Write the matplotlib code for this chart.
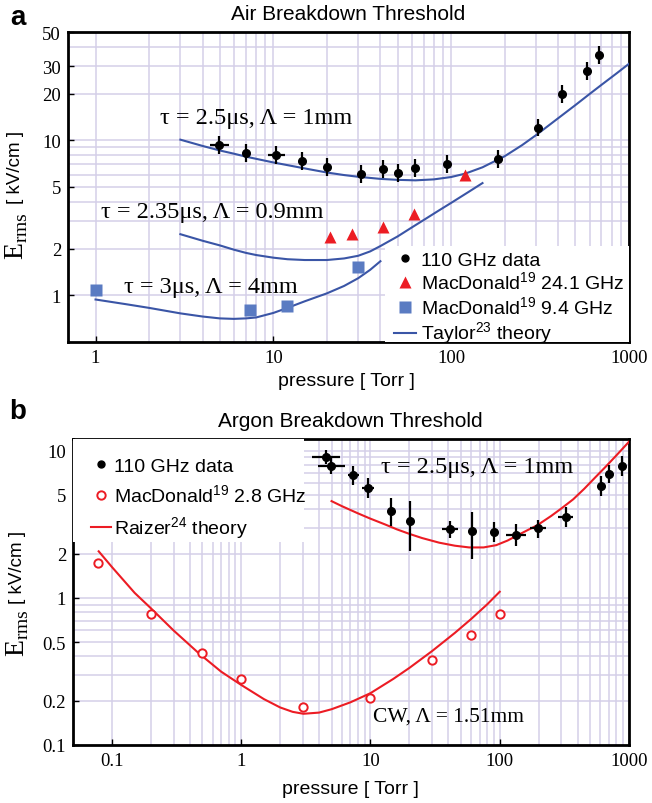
import numpy as np
import matplotlib
matplotlib.use("Agg")
import matplotlib.pyplot as plt
from matplotlib.lines import Line2D
from matplotlib.patches import Rectangle

# ---- panel a data (air) ----
air_p = [4.95, 7.03, 10.4, 14.5, 20.1, 31.1, 41.1, 50.4, 62.6, 95, 184, 307, 418, 577, 678]
air_E = [9.33, 8.24, 8.04, 7.32, 6.73, 6.1, 6.53, 6.19, 6.63, 7.08, 7.54, 12.1, 20.0, 28.0, 35.5]
air_E_lo = [8.16, 7.21, 7.03, 6.40, 5.89, 5.34, 5.71, 5.42, 5.80, 6.19, 6.60, 10.6, 17.5, 24.5, 31.0]
air_E_hi = [10.66, 9.42, 9.19, 8.37, 7.69, 6.97, 7.46, 7.08, 7.58, 8.09, 8.62, 13.8, 22.9, 32.0, 40.6]
air_p_lo = [4.4, 6.8, 9.3, 14.0, 19.6, 30.4, 40.0, 49.5, 61.5, 93, 180, 300, 410, 565, 665]
air_p_hi = [5.6, 7.3, 11.7, 15.0, 20.6, 31.8, 42.2, 51.3, 63.7, 97, 188, 314, 426, 589, 691]

mac24_p = [20.7, 27.8, 41.1, 61.6, 119.6]
mac24_E = [2.39, 2.50, 2.77, 3.33, 5.95]

mac94_p = [1.0, 7.37, 11.9, 29.8]
mac94_E = [1.09, 0.80, 0.85, 1.52]

taylor1_p = [3, 4, 5, 6, 7, 8, 10, 13, 16, 20, 25, 30, 40, 50, 63, 80, 100, 120,
             150, 200, 250, 300, 400, 500, 600, 700, 850, 1000]
taylor1_E = [10.1, 9.2, 8.6, 8.2, 7.85, 7.6, 7.2, 6.8, 6.5, 6.2, 5.97, 5.82, 5.64, 5.56,
             5.52, 5.6, 5.8, 6.1, 6.7, 7.9, 9.3, 10.8, 13.9, 16.9, 19.9, 22.8, 27.0, 31.2]

taylor2_p = [3, 4, 5, 6, 7, 8, 10, 12, 15, 20, 25, 30, 35, 40, 50, 60, 70, 85, 100, 125, 150]
taylor2_E = [2.48, 2.25, 2.1, 1.97, 1.88, 1.82, 1.75, 1.71, 1.69, 1.69, 1.73, 1.8, 1.92,
             2.08, 2.4, 2.74, 3.06, 3.52, 3.95, 4.64, 5.3]

taylor3_p = [1, 1.5, 2, 3, 4, 5, 6, 7, 8, 10, 12, 15, 20, 25, 30, 35, 40]
taylor3_E = [0.94, 0.875, 0.83, 0.765, 0.73, 0.71, 0.705, 0.71, 0.72, 0.77, 0.83, 0.915,
             1.03, 1.15, 1.29, 1.46, 1.66]

# ---- panel b data (argon) ----
ar_p = [4.5, 4.92, 7.38, 9.6, 14.5, 20.2, 41, 60.7, 90.8, 134.6, 196, 323, 603, 700, 887]
ar_E = [9.07, 7.83, 6.78, 5.6, 3.89, 3.33, 2.93, 2.84, 2.81, 2.67, 2.96, 3.56, 5.74, 6.96, 7.83]
ar_E_lo = [8.1, 6.9, 5.8, 4.8, 3.1, 2.09, 2.55, 1.83, 2.4, 2.25, 2.55, 3.05, 4.9, 6.05, 6.7]
ar_E_hi = [10.1, 8.9, 7.9, 6.5, 4.8, 4.54, 3.35, 3.83, 3.3, 3.15, 3.4, 4.15, 6.7, 8.0, 9.15]
ar_p_lo = [3.5, 3.9, 6.7, 8.6, 14.0, 20.0, 35.5, 59.5, 88, 112, 170, 280, 595, 690, 875]
ar_p_hi = [5.8, 6.3, 8.1, 10.7, 15.0, 20.4, 47.5, 62.0, 93, 161, 226, 372, 611, 710, 899]

mac28_p = [0.078, 0.2, 0.5, 1, 3, 10, 30, 60, 100]
mac28_E = [1.72, 0.78, 0.42, 0.28, 0.18, 0.21, 0.38, 0.56, 0.78]

raizer1_p = [5, 6, 8, 10, 13, 16, 20, 25, 34, 45, 58, 75, 94, 115, 135, 160, 196, 250,
             300, 370, 450, 550, 665, 800, 1000]
raizer1_E = [4.54, 4.2, 3.75, 3.45, 3.15, 2.92, 2.72, 2.55, 2.37, 2.26, 2.2, 2.2, 2.28,
             2.45, 2.64, 2.85, 3.12, 3.6, 4.05, 4.67, 5.5, 6.6, 7.83, 9.3, 11.5]

raizer2_p = [0.079, 0.1, 0.15, 0.2, 0.3, 0.47, 0.7, 1, 1.5, 2, 2.5, 3.03, 4, 5, 7, 10,
             15, 20, 30, 45, 60, 80, 100]
raizer2_E = [2.07, 1.62, 1.08, 0.85, 0.6, 0.42, 0.315, 0.256, 0.205, 0.18, 0.168, 0.163,
             0.166, 0.175, 0.195, 0.225, 0.281, 0.334, 0.435, 0.578, 0.717, 0.903, 1.1]

BLUE = "#3a55a6"
SQ = "#5a7bc2"
RED = "#ec1c24"
GRID = "#d4cfe8"
SANS = "Liberation Sans"
SERIF = "Liberation Serif"

plt.rcParams["mathtext.fontset"] = "custom"
plt.rcParams["mathtext.rm"] = SERIF
plt.rcParams["mathtext.sf"] = SANS
plt.rcParams["font.family"] = SANS

W, H = 652, 804
fig = plt.figure(figsize=(W / 100, H / 100), dpi=100)


def box(l, t, r, b):
    return [l / W, 1 - b / H, (r - l) / W, (b - t) / H]


def style(ax, xl, yl, xt, xtl, yt, ytl, xgrid, ygrid):
    ax.set_xscale("log")
    ax.set_yscale("log")
    ax.set_xlim(*xl)
    ax.set_ylim(*yl)
    for g in xgrid:
        ax.axvline(g, color=GRID, lw=1.1, zorder=0)
    for g in ygrid:
        ax.axhline(g, color=GRID, lw=1.1, zorder=0)
    ax.set_xticks(xt, labels=xtl)
    ax.set_yticks(yt, labels=ytl)
    ax.minorticks_off()
    ax.tick_params(direction="in", length=4, width=1, top=False, right=False,
                   labelsize=13.5, pad=5)
    for lab in ax.get_xticklabels() + ax.get_yticklabels():
        lab.set_fontfamily(SERIF)
    for s in ax.spines.values():
        s.set_linewidth(2)
        s.set_color("black")


def decades(lo, hi):
    out = []
    d = lo
    while d < hi:
        for m in range(1, 10):
            out.append(m * d)
        d *= 10
    out.append(hi)
    return out


# ================= panel a =================
ax = fig.add_axes(box(68, 33, 629, 343))
style(ax, (0.7, 1000), (0.5, 50),
      [1, 10, 100, 1000], ["1", "10", "100", "1000"],
      [1, 2, 5, 10, 20, 30, 50], ["1", "2", "5", "10", "20", "30", "50"],
      decades(1, 1000), [1, 2, 3, 4, 5, 6, 7, 8, 9, 10, 20, 30, 40, 50])

ax.plot(taylor1_p, taylor1_E, color=BLUE, lw=1.5, zorder=3)
ax.plot(taylor2_p, taylor2_E, color=BLUE, lw=1.5, zorder=3)
ax.plot(taylor3_p, taylor3_E, color=BLUE, lw=1.5, zorder=3)
ap = np.array(air_p)
aE = np.array(air_E)
ax.errorbar(ap, aE,
             yerr=[aE - np.array(air_E_lo), np.array(air_E_hi) - aE],
             xerr=[ap - np.array(air_p_lo), np.array(air_p_hi) - ap],
             fmt="o", color="black", ms=5.5, elinewidth=1.6, capsize=0, zorder=5)
ax.plot(mac24_p, mac24_E, "^", color=RED, ms=8, mec="none", zorder=5)
ax.plot(mac94_p, mac94_E, "s", color=SQ, ms=8, mec="none", zorder=5)

ax.text(2.29, 14.1, "τ = 2.5μs, Λ = 1mm", ha="left", va="center",
        fontsize=17.5, family=SERIF)
ax.text(1.08, 3.48, "τ = 2.35μs, Λ = 0.9mm", ha="left", va="center",
        fontsize=17.5, family=SERIF)
ax.text(1.45, 1.14, "τ = 3μs, Λ = 4mm", ha="left", va="center",
        fontsize=17.5, family=SERIF)

ax.add_patch(Rectangle((0.565, 0), 0.435, 0.31, transform=ax.transAxes,
                       facecolor="white", edgecolor="none", zorder=4))
hA = [Line2D([], [], ls="none", marker="o", color="black", ms=5),
      Line2D([], [], ls="none", marker="^", color=RED, ms=8, mec="none"),
      Line2D([], [], ls="none", marker="s", color=SQ, ms=8, mec="none"),
      Line2D([], [], color=BLUE, lw=1.5)]
lA = ["110 GHz data", r"MacDonald$^{\mathsf{19}}$ 24.1 GHz",
      r"MacDonald$^{\mathsf{19}}$ 9.4 GHz", r"Taylor$^{\mathsf{23}}$ theory"]
leg = ax.legend(hA, lA, loc="lower right", bbox_to_anchor=(0.995, -0.02),
                borderaxespad=0, fontsize=14, handlelength=1.15, handletextpad=0.25,
                labelspacing=0.1, borderpad=0.1, frameon=False)
leg.set_zorder(5)

fig.text(348 / W, 1 - 15 / H, "Air Breakdown Threshold", ha="center", va="center",
         fontsize=15)
fig.text(18 / W, 1 - 18 / H, "a", ha="center", va="center", fontsize=20,
         fontweight="bold")
fig.text(346 / W, 1 - 382 / H, "pressure [ Torr ]", ha="center", va="center",
         fontsize=14)
fig.text(16 / W, 1 - 167 / H, "[ kV/cm ]", rotation=90, ha="center", va="center",
         fontsize=13.5)
fig.text(17 / W, 1 - 236 / H, r"$\mathrm{E}_{\mathrm{rms}}$", rotation=90,
         ha="center", va="center", fontsize=20)

# ================= panel b =================
bx = fig.add_axes(box(73, 440, 629, 746))
style(bx, (0.05, 1000), (0.1, 12),
      [0.1, 1, 10, 100, 1000], ["0.1", "1", "10", "100", "1000"],
      [0.1, 0.2, 0.5, 1, 2, 5, 10], ["0.1", "0.2", "0.5", "1", "2", "5", "10"],
      decades(0.1, 1000),
      [0.2, 0.3, 0.4, 0.5, 0.6, 0.7, 0.8, 0.9, 1, 2, 3, 4, 5, 6, 7, 8, 9, 10])

bx.plot(raizer1_p, raizer1_E, color=RED, lw=1.5, zorder=3)
bx.plot(raizer2_p, raizer2_E, color=RED, lw=1.5, zorder=3)
rp = np.array(ar_p)
rE = np.array(ar_E)
bx.errorbar(rp, rE,
            yerr=[rE - np.array(ar_E_lo), np.array(ar_E_hi) - rE],
            xerr=[rp - np.array(ar_p_lo), np.array(ar_p_hi) - rp],
            fmt="o", color="black", ms=5.5, elinewidth=1.6, capsize=0, zorder=5)
bx.plot(mac28_p, mac28_E, "o", mfc="white", mec=RED, mew=1.4, ms=6, zorder=5)

bx.text(12, 7.8, "τ = 2.5μs, Λ = 1mm", ha="left", va="center",
        fontsize=17.5, family=SERIF)
bx.text(10.4, 0.157, "CW, Λ = 1.51mm", ha="left", va="center",
        fontsize=15.5, family=SERIF)

bx.add_patch(Rectangle((0, 0.663), 0.415, 0.337, transform=bx.transAxes,
                       facecolor="white", edgecolor="none", zorder=4))
hB = [Line2D([], [], ls="none", marker="o", color="black", ms=5),
      Line2D([], [], ls="none", marker="o", mfc="white", mec=RED, mew=1.4, ms=6),
      Line2D([], [], color=RED, lw=1.5)]
lB = ["110 GHz data", r"MacDonald$^{\mathsf{19}}$ 2.8 GHz",
      r"Raizer$^{\mathsf{24}}$ theory"]
leg2 = bx.legend(hB, lB, loc="upper left", bbox_to_anchor=(0, 1), borderaxespad=0,
                 fontsize=14, handlelength=1.0, handletextpad=0.15,
                 labelspacing=0.42, borderpad=0.95, frameon=False)
leg2.set_zorder(5)

fig.text(350 / W, 1 - 422 / H, "Argon Breakdown Threshold", ha="center",
         va="center", fontsize=15)
fig.text(18 / W, 1 - 412 / H, "b", ha="center", va="center", fontsize=20,
         fontweight="bold")
fig.text(350 / W, 1 - 790 / H, "pressure [ Torr ]", ha="center", va="center",
         fontsize=14)
fig.text(17 / W, 1 - 567 / H, "[ kV/cm ]", rotation=90, ha="center", va="center",
         fontsize=13.5)
fig.text(18 / W, 1 - 633 / H, r"$\mathrm{E}_{\mathrm{rms}}$", rotation=90,
         ha="center", va="center", fontsize=20)

fig.savefig("out.png", dpi=100)
